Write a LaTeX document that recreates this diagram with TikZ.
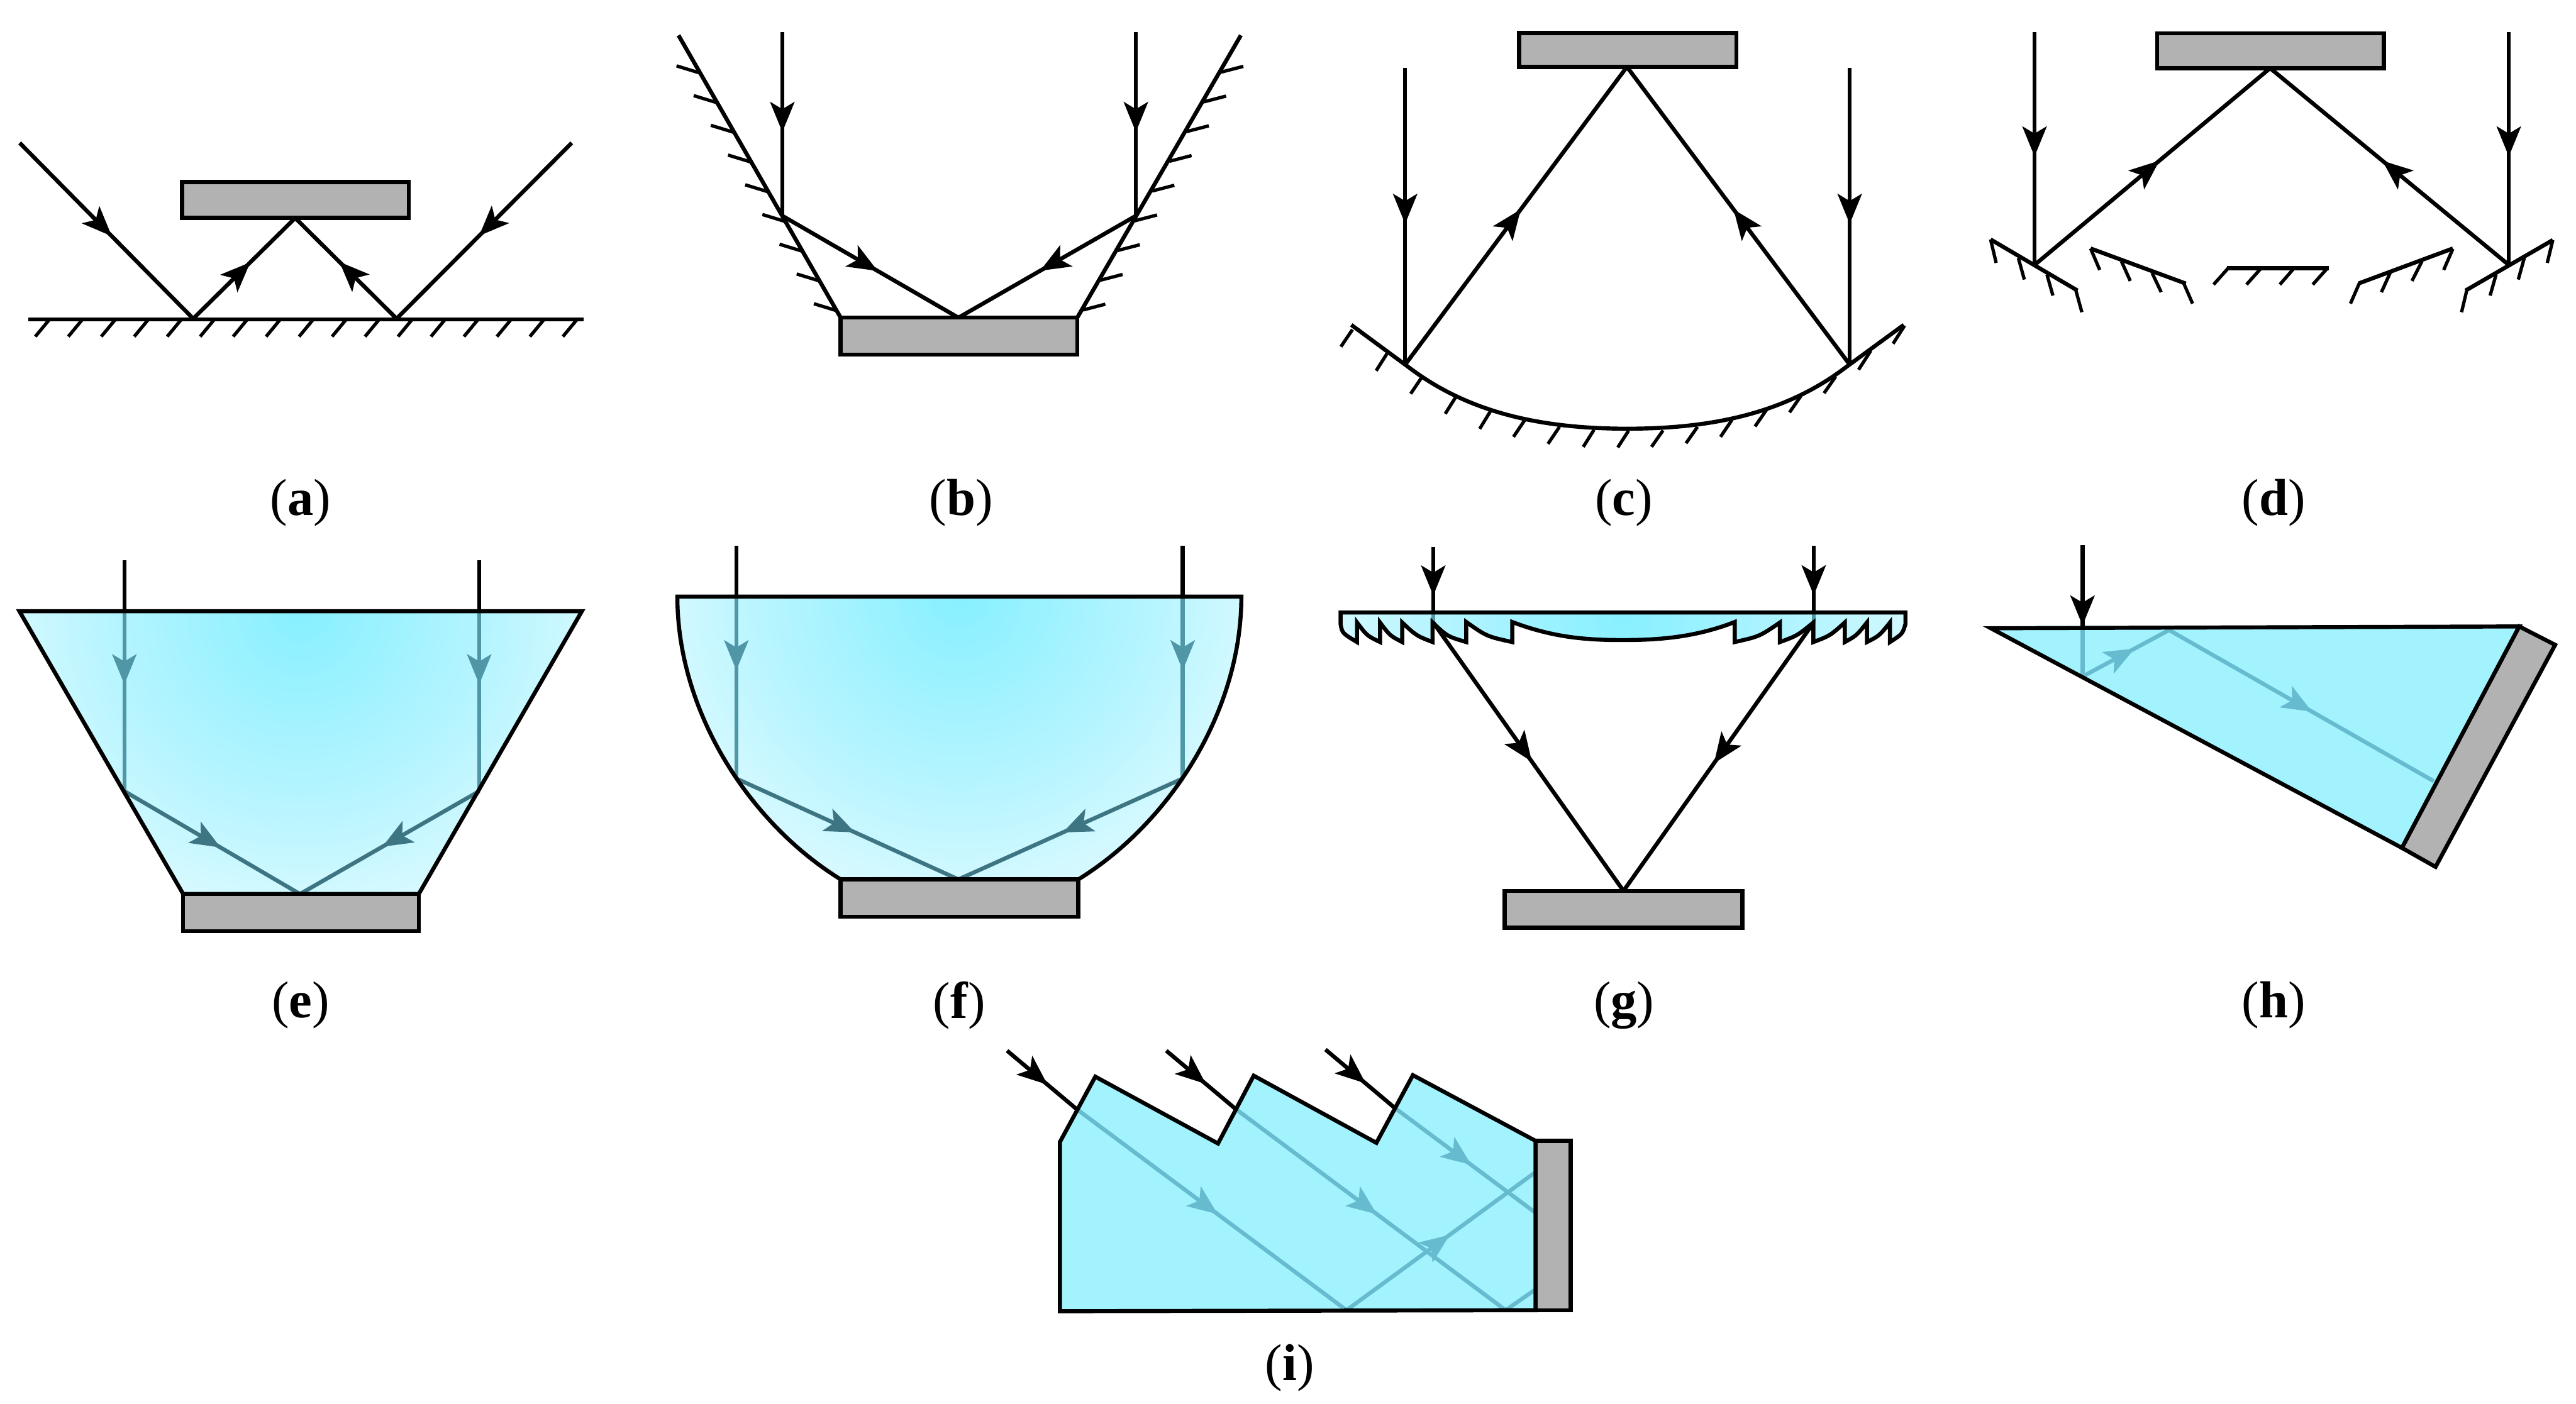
\documentclass[tikz,border=0pt]{standalone}
\usepackage{fontspec}
\setmainfont{Liberation Serif}
\usetikzlibrary{arrows.meta,decorations.markings}
\definecolor{sensgray}{HTML}{B2B2B2}
\definecolor{glassflat}{HTML}{A3F3FF}
\definecolor{rayA}{HTML}{4F96A7}
\definecolor{rayB}{HTML}{3E7583}
\definecolor{rayC}{HTML}{66BBCE}
\pgfdeclareradialshading{glass}{\pgfpointorigin}{rgb(0bp)=(0.53,0.94,1); rgb(7bp)=(0.62,0.95,1); rgb(15bp)=(0.72,0.96,1); rgb(21.5bp)=(0.82,0.975,1); rgb(25bp)=(0.86,0.98,1); rgb(50bp)=(0.86,0.98,1)}
\tikzset{
  x=0.02cm,y=-0.02cm,
  ln/.style={line width=1.4pt,line join=miter,black},
  hatch/.style={line width=1.15pt,black},
  sens/.style={ln,fill=sensgray},
  arrat/.style={postaction={decorate},decoration={markings,mark=at position #1 with {\arrow{Stealth[length=10.5pt,width=8.6pt,inset=2.6pt,line width=0pt]}}}},
  lab/.style={font=\fontsize{18pt}{20pt}\selectfont,inner sep=0pt,anchor=center},
}
\newcommand\ePath{(11.8,372.1) -- (354.2,372.1) -- (254.9,544.3) -- (111.5,544.3) -- cycle}
\newcommand\fPath{(412.3,363.2) -- (755.6,363.2) .. controls (755.6,433.2) and (712,501) .. (656.4,535.4) -- (511.7,535.4) .. controls (456,501) and (412.3,433.2) .. cycle}
\newcommand\gPath{(816,372.9) -- (816,380) .. controls (817,385.5) .. (826,390.9) -- (826,379) .. controls (832,387) .. (840,390.9) -- (840,379) .. controls (846,387) .. (853.5,390.9) -- (853.5,379) .. controls (862,387) .. (872,390.9) -- (872,379) .. controls (881,387.5) .. (892.5,390.9) -- (892.5,378.7) .. controls (905,387.5) .. (920.5,390.9) -- (920.5,378.7) .. controls (945,388) and (965,389.7) .. (987.5,389.7) .. controls (1010,389.7) and (1032,388) .. (1055.9,378.7) -- (1055.9,390.9) .. controls (1071,387.5) .. (1083.4,379) -- (1083.4,390.9) .. controls (1094,387) .. (1103.8,379) -- (1103.8,390.9) .. controls (1114,387) .. (1122.9,379) -- (1122.9,390.9) .. controls (1130,387) .. (1136.4,379) -- (1136.4,390.9) .. controls (1144,387) .. (1150.4,379) -- (1150.4,390.9) .. controls (1158,386) .. (1159.8,380) -- (1159.8,372.9) -- cycle}
\begin{document}
\begin{tikzpicture}
\useasboundingbox (0,0) rectangle (1568,854.8);

% ---------- (a)
\draw[sens] (110.8,110.8) rectangle (248.8,132.7);
\coordinate (a1) at (12,87); \coordinate (a2) at (117.6,194);
\coordinate (a3) at (179.7,132.7); \coordinate (a4) at (241.4,194); \coordinate (a5) at (348,87);
\draw[ln,arrat=0.531] (a1) -- (a2);
\draw[ln,arrat=0.56] (a2) -- (a3);
\draw[ln,arrat=0.564] (a4) -- (a3);
\draw[ln,arrat=0.529] (a5) -- (a4);
\draw[ln] (17.2,194.5) -- (355.3,194.5);
\foreach \i in {0,...,16} \draw[hatch] ({30.1+20.07*\i},194.5) -- ++(-8.6,10.4);
\node[lab] (la) at (183,306) {(\textbf{a})};

% ---------- (b)
\draw[ln] (413,21.5) -- (511.7,193.4);
\draw[ln] (755.3,21.5) -- (655.7,193.4);
\foreach \i in {0,...,8} {
  \draw[hatch] ({411.8+10.45*\i},{40.1+18.1*\i}) -- ++(14.4,4.4);
  \draw[hatch] ({756.8-10.5*\i},{40.4+18.1*\i}) -- ++(-13.5,3.5);
}
\draw[sens] (511.7,193.4) rectangle (655.7,215.9);
\coordinate (b1) at (476.2,19.4); \coordinate (b2) at (476.2,131.4);
\coordinate (b3) at (583.4,193.4); \coordinate (b4) at (691.4,131.4); \coordinate (b5) at (691.4,19.4);
\draw[ln,arrat=0.544] (b1) -- (b2);
\draw[ln,arrat=0.542] (b2) -- (b3);
\draw[ln,arrat=0.54] (b4) -- (b3);
\draw[ln,arrat=0.544] (b5) -- (b4);
\node[lab] (lb) at (585,306) {(\textbf{b})};

% ---------- (c)
\draw[sens] (924.6,20.1) rectangle (1056.9,40.7);
\coordinate (c1) at (855.3,41.5); \coordinate (c2) at (855.3,222);
\coordinate (c3) at (990.3,40.7); \coordinate (c4) at (1125.9,222); \coordinate (c5) at (1125.9,41.5);
\draw[ln,arrat=0.525] (c1) -- (c2);
\draw[ln,arrat=0.521] (c2) -- (c3);
\draw[ln,arrat=0.521] (c4) -- (c3);
\draw[ln,arrat=0.525] (c5) -- (c4);
\draw[ln] (822.5,197.8) -- (858,224) .. controls (895,252) and (940,261) .. (990.5,261)
  .. controls (1041,261) and (1086,252) .. (1123,224) -- (1158.8,197.8);
\foreach \a/\b/\c/\d in {78/145/48/230,168/265/140/350,258/385/230/465,348/480/320/565,438/552/410/640,528/595/498/680,618/630/588/715,708/645/680/730,798/650/770/733,888/648/858/730,978/630/948/712,1068/595/1038/680,1158/545/1128/628,1248/475/1218/558,1338/380/1308/462,1430/250/1398/345,1518/125/1488/215}
  \draw[hatch] ({805+.2334*\a},{183+.122*\b}) -- ({805+.2334*\c},{183+.122*\d});
\node[lab] (lc) at (988.5,306) {(\textbf{c})};

% ---------- (d)
\draw[sens] (1313.1,20.2) rectangle (1451.1,41.5);
\coordinate (d1) at (1238.4,19.5); \coordinate (d2) at (1238.4,161.3);
\coordinate (d3) at (1381.8,41.5); \coordinate (d4) at (1527.1,161.3); \coordinate (d5) at (1527.1,19.5);
\draw[ln,arrat=0.534] (d1) -- (d2);
\draw[ln,arrat=0.531] (d2) -- (d3);
\draw[ln,arrat=0.531] (d4) -- (d3);
\draw[ln,arrat=0.534] (d5) -- (d4);
\foreach \a/\b/\c/\d in {93/145/312/400,345/190/585/365,688/288/945/288,1020/365/1258/190,1290/400/1510/148}
  \draw[ln] ({1189.2+.2415*\a},{128.1+.122*\b}) -- ({1189.2+.2415*\c},{128.1+.122*\d});
\foreach \a/\b/\c/\d in {93/145/107/262,163/238/178/345,235/320/250/425,308/400/323/508,345/190/368/297,423/255/445/352,500/312/523/408,580/365/602/465,692/288/655/370,775/288/738/370,858/288/822/370,942/288/905/370,1022/365/1000/465,1100/312/1078/408,1180/255/1155/352,1258/192/1235/297,1293/400/1280/508,1367/320/1352/425,1438/238/1423/345,1510/148/1496/262}
  \draw[hatch] ({1189.2+.2415*\a},{128.1+.122*\b}) -- ({1189.2+.2415*\c},{128.1+.122*\d});
\node[lab] (ld) at (1384,306) {(\textbf{d})};

% ---------- (e)
\begin{scope}
  \clip \ePath;
  \shade[shading=glass] (183,372.1) circle (200);
\end{scope}
\coordinate (e0) at (75.7,341.2); \coordinate (e1) at (75.7,372.1); \coordinate (e2) at (75.7,481.7);
\coordinate (e3) at (182.6,544.3);
\coordinate (e4) at (291.7,481.7); \coordinate (e5) at (291.7,372.1); \coordinate (e6) at (291.7,341.2);
\draw[ln] (e0) -- (e1);
\draw[ln] (e6) -- (e5);
\draw[ln,rayA,arrat=0.406] (e1) -- (e2);
\draw[ln,rayA,arrat=0.406] (e5) -- (e4);
\draw[ln,rayB,arrat=0.548] (e2) -- (e3);
\draw[ln,rayB,arrat=0.54] (e4) -- (e3);
\draw[ln] \ePath;
\draw[sens] (111.5,544.3) rectangle (254.9,566.9);
\node[lab] (le) at (183,612) {(\textbf{e})};

% ---------- (f)
\begin{scope}
  \clip \fPath;
  \shade[shading=glass] (584,363.2) circle (200);
\end{scope}
\coordinate (f0) at (448.2,332.3); \coordinate (f1) at (448.2,363.2); \coordinate (f2) at (448.2,474);
\coordinate (f3) at (583.4,535.4);
\coordinate (f4) at (719.9,474); \coordinate (f5) at (719.9,363.2); \coordinate (f6) at (719.9,332.3);
\draw[ln] (f0) -- (f1);
\draw[ln] (f6) -- (f5);
\draw[ln,rayA,arrat=0.405] (f1) -- (f2);
\draw[ln,rayA,arrat=0.405] (f5) -- (f4);
\draw[ln,rayB,arrat=0.534] (f2) -- (f3);
\draw[ln,rayB,arrat=0.535] (f4) -- (f3);
\draw[ln] \fPath;
\draw[sens] (511.7,535.4) rectangle (656.4,558.1);
\node[lab] (lf) at (584,612) {(\textbf{f})};

% ---------- (g)
\begin{scope}
  \clip \gPath;
  \shade[shading=glass] (988,373) circle (200);
\end{scope}
\coordinate (g0) at (872.4,333); \coordinate (g1) at (872.4,372.9); \coordinate (g2) at (872.4,379);
\coordinate (g3) at (988.2,542.4);
\coordinate (g4) at (1104,379); \coordinate (g5) at (1104,372.9); \coordinate (g6) at (1104,332.4);
\draw[ln,arrat=0.74] (g0) -- (g1);
\draw[ln,arrat=0.74] (g6) -- (g5);
\draw[ln,rayA] (g1) -- (g2);
\draw[ln,rayA] (g5) -- (g4);
\draw[ln] \gPath;
\draw[ln,arrat=0.519] (g2) -- (g3);
\draw[ln,arrat=0.525] (g4) -- (g3);
\draw[sens] (915.9,542.4) rectangle (1060.6,564.8);
\node[lab] (lg) at (988.5,612) {(\textbf{g})};

% ---------- (h)
\draw[sens] (1533.4,381.4) -- (1555.3,392.6) -- (1482.5,527.8) -- (1462,516.2) -- cycle;
\fill[glassflat] (1211.8,382.5) -- (1533.4,381.4) -- (1462,516.2) -- cycle;
\coordinate (h0) at (1267.6,332); \coordinate (h1) at (1267.6,382.3); \coordinate (h2) at (1267.6,411.9);
\coordinate (h3) at (1320.3,383.6); \coordinate (h4) at (1481.4,475.6);
\draw[ln,arrat=0.97] (h0) -- (h1);
\draw[ln,rayC] (h1) -- (h2);
\draw[ln,rayC,arrat=0.60] (h2) -- (h3);
\draw[ln,rayC,arrat=0.54] (h3) -- (h4);
\draw[ln] (1211.8,382.5) -- (1533.4,381.4) -- (1462,516.2) -- cycle;
\node[lab] (lh) at (1384,612) {(\textbf{h})};

% ---------- (i)
\draw[sens] (934.7,694.6) rectangle (956.1,797.7);
\fill[glassflat] (645.2,695.2) -- (666.7,655.5) -- (741.4,696.2) -- (763.1,654.9) -- (837.8,695.8) -- (860,654.6) -- (934.7,694.6) -- (934.7,797.7) -- (645.2,798.3) -- cycle;
\coordinate (i0) at (613,639.7); \coordinate (i1) at (655,675); \coordinate (i2) at (819.6,797.7);
\coordinate (i3) at (709.9,639.7); \coordinate (i4) at (751.9,675); \coordinate (i5) at (916.5,797.7);
\coordinate (i6) at (806.8,639); \coordinate (i7) at (848.8,674.4); \coordinate (i8) at (934,737.9);
\coordinate (i9) at (934,714.1); \coordinate (i10) at (934,785.5);
\draw[ln,arrat=0.585] (i0) -- (i1);
\draw[ln,arrat=0.573] (i3) -- (i4);
\draw[ln,arrat=0.582] (i6) -- (i7);
\draw[ln,rayC,arrat=0.525] (i1) -- (i2);
\draw[ln,rayC,arrat=0.525] (i4) -- (i5);
\draw[ln,rayC,arrat=0.549] (i7) -- (i8);
\draw[ln,rayC,arrat=0.55] (i2) -- (i9);
\draw[ln,rayC] (i5) -- (i10);
\draw[ln] (645.2,695.2) -- (666.7,655.5) -- (741.4,696.2) -- (763.1,654.9) -- (837.8,695.8) -- (860,654.6) -- (934.7,694.6) -- (934.7,797.7) -- (645.2,798.3) -- cycle;
\node[lab] (li) at (785,833) {(\textbf{i})};
\end{tikzpicture}
\end{document}
